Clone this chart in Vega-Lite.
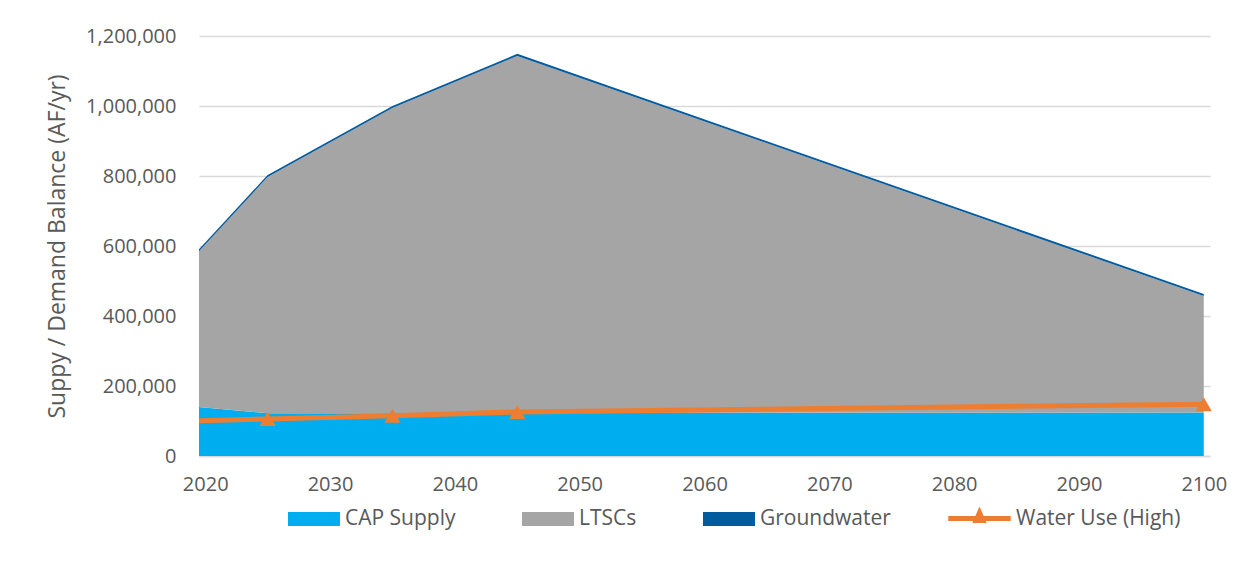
{
  "$schema": "https://vega.github.io/schema/vega-lite/v6.json",
  "width": 1011,
  "height": 420,
  "autosize": {"type": "none"},
  "padding": {"left": 199, "top": 36, "right": 26, "bottom": 117},
  "background": "white",
  "config": {
    "font": "Open Sans",
    "view": {"stroke": null},
    "axis": {"labelColor": "#595959", "titleColor": "#595959", "labelFont": "Open Sans", "titleFont": "Open Sans", "titleFontWeight": "normal"}
  },
  "datasets": {
    "supply": [
      {"year": 2019.5, "source": "CAP Supply", "stackOrder": 1, "af": 140000},
      {"year": 2025, "source": "CAP Supply", "stackOrder": 1, "af": 122000},
      {"year": 2035, "source": "CAP Supply", "stackOrder": 1, "af": 122000},
      {"year": 2045, "source": "CAP Supply", "stackOrder": 1, "af": 123000},
      {"year": 2100, "source": "CAP Supply", "stackOrder": 1, "af": 124000},
      {"year": 2019.5, "source": "LTSCs", "stackOrder": 2, "af": 445000},
      {"year": 2025, "source": "LTSCs", "stackOrder": 2, "af": 675000},
      {"year": 2035, "source": "LTSCs", "stackOrder": 2, "af": 872000},
      {"year": 2045, "source": "LTSCs", "stackOrder": 2, "af": 1020000},
      {"year": 2100, "source": "LTSCs", "stackOrder": 2, "af": 333000},
      {"year": 2019.5, "source": "Groundwater", "stackOrder": 3, "af": 6000},
      {"year": 2025, "source": "Groundwater", "stackOrder": 3, "af": 6000},
      {"year": 2035, "source": "Groundwater", "stackOrder": 3, "af": 6000},
      {"year": 2045, "source": "Groundwater", "stackOrder": 3, "af": 6000},
      {"year": 2100, "source": "Groundwater", "stackOrder": 3, "af": 6000}
    ],
    "use": [
      {"year": 2019.5, "series": "Water Use (High)", "af": 101000},
      {"year": 2025, "series": "Water Use (High)", "af": 106000},
      {"year": 2035, "series": "Water Use (High)", "af": 115000},
      {"year": 2045, "series": "Water Use (High)", "af": 126000},
      {"year": 2100, "series": "Water Use (High)", "af": 148000}
    ]
  },
  "layer": [
    {
      "data": {"name": "supply"},
      "mark": {"type": "area", "opacity": 1},
      "encoding": {
        "x": {
          "field": "year", "type": "quantitative",
          "scale": {"domain": [2019.5, 2100.5], "nice": false, "zero": false},
          "axis": {
            "values": [2020, 2030, 2040, 2050, 2060, 2070, 2080, 2090, 2100],
            "format": "d", "title": null, "grid": false, "ticks": false,
            "domainColor": "#D9D9D9", "domainWidth": 1.5,
            "labelFontSize": 20, "labelPadding": 18
          }
        },
        "y": {
          "field": "af", "type": "quantitative", "stack": "zero",
          "scale": {"domain": [0, 1200000], "nice": false},
          "axis": {
            "values": [0, 200000, 400000, 600000, 800000, 1000000, 1200000],
            "format": ",d", "title": "Suppy / Demand Balance (AF/yr)",
            "titleFontSize": 23, "titleX": -142, "titleY": 210, "titleBaseline": "middle", "titleAlign": "center", "titleAngle": -90,
            "labelFontSize": 20, "labelPadding": 23, "ticks": false, "domain": false,
            "gridColor": "#D9D9D9", "gridWidth": 1.5
          }
        },
        "order": {"field": "stackOrder", "type": "quantitative", "sort": "ascending"},
        "fill": {
          "field": "source", "type": "nominal",
          "scale": {
            "domain": ["CAP Supply", "LTSCs", "Groundwater"],
            "range": ["#00AEEF", "#A5A5A5", "#005B9F"]
          },
          "legend": {
            "orient": "none", "legendX": 89, "legendY": 457, "direction": "horizontal", "title": null,
            "symbolSize": 2704, "symbolType": "M-1,-0.27L1,-0.27L1,0.27L-1,0.27Z",
            "labelFontSize": 21, "labelColor": "#595959", "labelFont": "Open Sans", "labelLimit": 400,
            "columnPadding": 66, "labelOffset": 5, "symbolStrokeWidth": 0, "symbolOpacity": 1
          }
        }
      }
    },
    {
      "data": {"name": "use"},
      "mark": {"type": "line", "strokeWidth": 5},
      "encoding": {
        "x": {"field": "year", "type": "quantitative"},
        "y": {"field": "af", "type": "quantitative"},
        "stroke": {
          "field": "series", "type": "nominal",
          "scale": {"domain": ["Water Use (High)"], "range": ["#ED7D31"]},
          "legend": {
            "orient": "none", "legendX": 752, "legendY": 454, "direction": "horizontal", "title": null,
            "symbolSize": 2704, "symbolType": "M-1.2,0L1.2,0M0,-0.22L0.13,0.08L-0.13,0.08Z",
            "symbolStrokeWidth": 5, "symbolFillColor": "#ED7D31", "symbolOpacity": 1,
            "labelFontSize": 21, "labelColor": "#595959", "labelFont": "Open Sans", "labelLimit": 400,
            "labelOffset": 8
          }
        }
      }
    },
    {
      "data": {"name": "use"},
      "transform": [{"filter": "datum.year > 2020"}],
      "mark": {"type": "point", "shape": "triangle-up", "filled": true, "size": 260, "opacity": 1, "color": "#ED7D31"},
      "encoding": {
        "x": {"field": "year", "type": "quantitative"},
        "y": {"field": "af", "type": "quantitative"}
      }
    }
  ]
}
